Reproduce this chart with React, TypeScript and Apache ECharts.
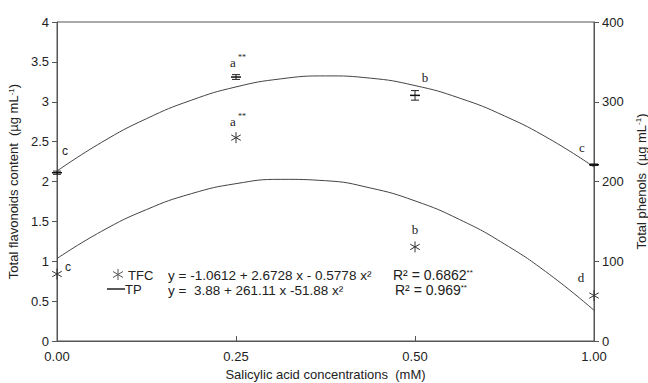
import React, { useEffect, useRef } from "react";
import * as echarts from "echarts";

// Concentration categories (mM), placed at equal spacing (index 1..4)
const categories = ["0.00", "0.25", "0.50", "1.00"];
const xIndex = [1, 2, 3, 4];

// Measured means
const tfcMean = [0.84, 2.55, 1.18, 0.57]; // µg/mL (left axis)
const tpMean = [211, 331, 308, 221]; // µg/mL (right axis)
const tpErr = [2, 3, 6, 1];

// Significance letters
const tfcLetters = ["c", "a", "b", "d"];
const tfcSig = ["", "**", "", ""];
const tpLetters = ["c", "a", "b", "c"];
const tpSig = ["", "**", "", ""];

// Fitted curves
const curveX = [1, 1.25, 1.5, 1.75, 2, 2.25, 2.5, 2.75, 3, 3.25, 3.5, 3.75, 4];
const tfcCurve = [1.034, 1.377, 1.648, 1.847, 1.973, 2.027, 2.01, 1.919, 1.757, 1.522, 1.216, 0.837, 0.385];
const tpCurve = [213.1, 249.2, 278.8, 301.9, 318.6, 328.7, 332.4, 329.6, 320.3, 304.5, 282.2, 253.5, 218.2];

// Equation / legend texts
const tfcEquation = "y = -1.0612 + 2.6728 x - 0.5778 x²";
const tpEquation = "y =  3.88 + 261.11 x -51.88 x²";
const tfcR2 = "R² = 0.6862";
const tpR2 = "R² = 0.969";

// label offsets (layout, px)
const tfcLabelOffset = [[11, -7], [0, -16], [0, -17], [-13, -18]];
const tpLabelOffset = [[8, -22], [0, -15], [10, -18], [-12, -17]];

const SANS = "Arial, 'Liberation Sans', sans-serif";
const SERIF = "'Times New Roman', 'Liberation Serif', serif";
const INK = "#222";
const LINE = "#555";

function letterEls(cx: number, cy: number, letter: string, sig: string, idx: number) {
  const els: any[] = [];
  const fam = idx === 0 ? SANS : SERIF;
  els.push({
    type: "text",
    style: {
      x: cx - (sig ? 3 : 0),
      y: cy,
      text: letter,
      fill: INK,
      font: `${idx === 0 ? 12 : 13}px ${fam}`,
      align: "center",
      verticalAlign: "middle",
    },
  });
  if (sig) {
    els.push({
      type: "text",
      style: {
        x: cx + 2,
        y: cy - 5,
        text: sig,
        fill: INK,
        font: `8px ${SERIF}`,
        align: "left",
        verticalAlign: "middle",
      },
    });
  }
  return els;
}

export default function App() {
  const ref = useRef<HTMLDivElement>(null);
  useEffect(() => {
    if (!ref.current) return;
    const chart = echarts.init(ref.current, null, { renderer: "svg" });

    const tfcData = xIndex.map((x, i) => [x, tfcMean[i], i]);
    const tpData = xIndex.map((x, i) => [x, tpMean[i], tpErr[i], i]);

    chart.setOption({
      animation: false,
      backgroundColor: "#fff",
      grid: {
        left: 57,
        right: 54,
        top: 22,
        bottom: 42,
        outerBoundsMode: "none",
        containLabel: false,
        show: true,
        borderColor: LINE,
        borderWidth: 1,
        backgroundColor: "transparent",
      },
      xAxis: {
        type: "value",
        min: 1,
        max: 4,
        interval: 1,
        name: "Salicylic acid concentrations  (mM)",
        nameLocation: "middle",
        nameGap: 27,
        nameTextStyle: { color: INK, fontSize: 13, fontFamily: SANS },
        axisLine: { show: true, lineStyle: { color: LINE } },
        axisTick: { show: true, inside: true, length: 5, lineStyle: { color: LINE } },
        axisLabel: {
          color: INK,
          fontSize: 13,
          fontFamily: SANS,
          margin: 9,
          formatter: (v: number) => categories[Math.round(v) - 1] ?? "",
        },
        splitLine: { show: false },
      },
      yAxis: [
        {
          type: "value",
          min: 0,
          max: 4,
          interval: 0.5,
          name: "Total flavonoids content  (µg mL{s|-1})",
          nameLocation: "middle",
          nameRotate: 90,
          nameGap: 29,
          nameTextStyle: {
            color: INK,
            fontSize: 13,
            fontFamily: SANS,
            rich: { s: { fontSize: 8, fontFamily: SANS, color: INK, verticalAlign: "top" } },
          },
          axisLine: { show: true, lineStyle: { color: LINE } },
          axisTick: { show: true, length: 5, lineStyle: { color: LINE } },
          axisLabel: { color: INK, fontSize: 13, fontFamily: SANS, margin: 8 },
          splitLine: { show: false },
        },
        {
          type: "value",
          min: 0,
          max: 400,
          interval: 100,
          position: "right",
          name: "Total phenols  (µg mL{s|-1})",
          nameLocation: "middle",
          nameRotate: 90,
          nameGap: 31,
          nameTextStyle: {
            color: INK,
            fontSize: 13,
            fontFamily: SANS,
            rich: { s: { fontSize: 8, fontFamily: SANS, color: INK, verticalAlign: "top" } },
          },
          axisLine: { show: true, lineStyle: { color: LINE } },
          axisTick: { show: true, length: 5, lineStyle: { color: LINE } },
          axisLabel: { color: INK, fontSize: 13, fontFamily: SANS, margin: 8 },
          splitLine: { show: false },
        },
      ],
      series: [
        {
          name: "TFC fit",
          type: "line",
          yAxisIndex: 0,
          data: curveX.map((x, i) => [x, tfcCurve[i]]),
          smooth: true,
          showSymbol: false,
          lineStyle: { color: "#444", width: 1 },
          z: 2,
        },
        {
          name: "TP fit",
          type: "line",
          yAxisIndex: 1,
          data: curveX.map((x, i) => [x, tpCurve[i]]),
          smooth: true,
          showSymbol: false,
          lineStyle: { color: "#444", width: 1 },
          z: 2,
        },
        {
          name: "TFC",
          type: "custom",
          yAxisIndex: 0,
          data: tfcData,
          z: 5,
          renderItem: (params: any, api: any) => {
            const i = api.value(2);
            const c = api.coord([api.value(0), api.value(1)]);
            const r = 5.5;
            const dx = r * 0.87;
            const dy = r * 0.5;
            const ls = { stroke: "#333", lineWidth: 1 };
            const off = tfcLabelOffset[i];
            return {
              type: "group",
              children: [
                { type: "line", shape: { x1: c[0], y1: c[1] - r, x2: c[0], y2: c[1] + r }, style: ls },
                { type: "line", shape: { x1: c[0] - dx, y1: c[1] - dy, x2: c[0] + dx, y2: c[1] + dy }, style: ls },
                { type: "line", shape: { x1: c[0] - dx, y1: c[1] + dy, x2: c[0] + dx, y2: c[1] - dy }, style: ls },
                ...letterEls(c[0] + off[0], c[1] + off[1], tfcLetters[i], tfcSig[i], i),
              ],
            };
          },
        },
        {
          name: "TP",
          type: "custom",
          yAxisIndex: 1,
          data: tpData,
          z: 5,
          renderItem: (params: any, api: any) => {
            const i = api.value(3);
            const x = api.value(0);
            const m = api.value(1);
            const e = api.value(2);
            const c = api.coord([x, m]);
            const t = api.coord([x, m + e]);
            const b = api.coord([x, m - e]);
            const ls = { stroke: "#222", lineWidth: 1 };
            const off = tpLabelOffset[i];
            return {
              type: "group",
              children: [
                { type: "line", shape: { x1: c[0], y1: t[1], x2: c[0], y2: b[1] }, style: ls },
                { type: "line", shape: { x1: c[0] - 4, y1: t[1], x2: c[0] + 4, y2: t[1] }, style: ls },
                { type: "line", shape: { x1: c[0] - 4, y1: b[1], x2: c[0] + 4, y2: b[1] }, style: ls },
                { type: "line", shape: { x1: c[0] - 5, y1: c[1], x2: c[0] + 5, y2: c[1] }, style: { stroke: "#111", lineWidth: 1.5 } },
                ...letterEls(c[0] + off[0], c[1] + off[1], tpLetters[i], tpSig[i], i),
              ],
            };
          },
        },
      ],
      graphic: [
        // TFC legend star
        { type: "line", shape: { x1: 118, y1: 269, x2: 118, y2: 280 }, style: { stroke: "#555", lineWidth: 1 } },
        { type: "line", shape: { x1: 113, y1: 271.5, x2: 123, y2: 277.5 }, style: { stroke: "#555", lineWidth: 1 } },
        { type: "line", shape: { x1: 113, y1: 277.5, x2: 123, y2: 271.5 }, style: { stroke: "#555", lineWidth: 1 } },
        { type: "text", style: { x: 128, y: 275, text: "TFC", fill: INK, font: `13px ${SANS}`, verticalAlign: "middle" } },
        // TP legend line
        { type: "line", shape: { x1: 107, y1: 289, x2: 125, y2: 289 }, style: { stroke: "#222", lineWidth: 1.5 } },
        { type: "text", style: { x: 125, y: 289, text: "TP", fill: INK, font: `13px ${SANS}`, verticalAlign: "middle" } },
        // equations
        { type: "text", style: { x: 168, y: 275, text: tfcEquation, fill: INK, font: `13.5px ${SANS}`, verticalAlign: "middle" } },
        { type: "text", style: { x: 168, y: 290, text: tpEquation, fill: INK, font: `13.5px ${SANS}`, verticalAlign: "middle" } },
        {
          type: "text",
          style: {
            x: 393,
            y: 275,
            text: tfcR2 + "{s|**}",
            fill: INK,
            font: `14px ${SANS}`,
            verticalAlign: "middle",
            rich: { s: { fontSize: 8, fontFamily: SANS, fill: INK, verticalAlign: "top" } },
          },
        },
        {
          type: "text",
          style: {
            x: 395,
            y: 290,
            text: tpR2 + "{s|**}",
            fill: INK,
            font: `14px ${SANS}`,
            verticalAlign: "middle",
            rich: { s: { fontSize: 8, fontFamily: SANS, fill: INK, verticalAlign: "top" } },
          },
        },
      ],
    });
    return () => chart.dispose();
  }, []);
  return (
    <div
      ref={ref}
      style={{ position: "fixed", left: 0, top: 0, width: 648, height: 383 }}
    />
  );
}
